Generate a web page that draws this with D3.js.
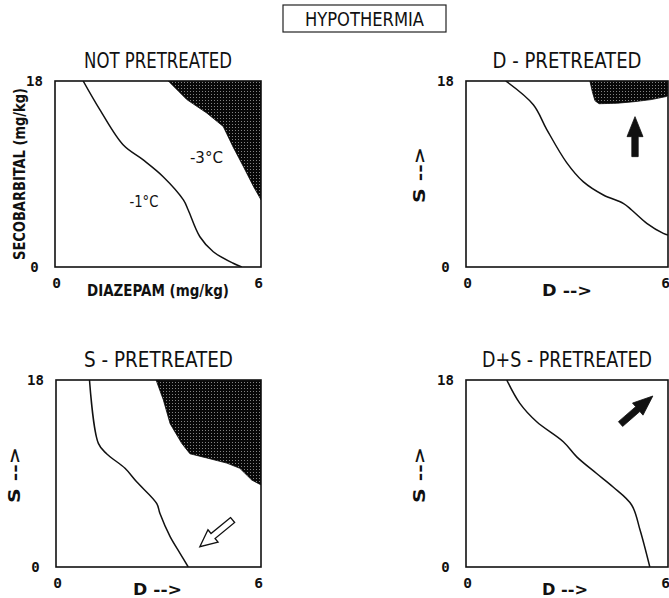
<!DOCTYPE html>
<html>
<head>
<meta charset="utf-8">
<script src="https://cdn.jsdelivr.net/npm/d3@7"></script>
<style>
  html, body { margin: 0; padding: 0; background: #fff; }
  svg { display: block; }
  text { font-family: "DejaVu Sans Condensed", "DejaVu Sans", sans-serif; fill: #111; }
  .tick { font-family: "DejaVu Sans Mono", monospace; font-weight: bold; }
</style>
</head>
<body>
<script>
// ---------------- DATA ----------------
const mainTitle = "HYPOTHERMIA";
const panelTitles = ["NOT PRETREATED", "D - PRETREATED", "S - PRETREATED", "D+S - PRETREATED"];
const xTickValues = [0, 6];
const yTickValues = [0, 18];
const xTickLabels = ["0", "6"];
const yTickLabels = ["0", "18"];
const xDomain = [0, 6];
const yDomain = [0, 18];
const xAxisLabels = ["DIAZEPAM  (mg/kg)", "D -->", "D -->", "D -->"];
const yAxisLabels = ["SECOBARBITAL  (mg/kg)", "S -->", "S -->", "S -->"];

// -1 °C isobole (diazepam, secobarbital) for each panel
const curveNotPretreated = [[0.82,18],[1.31,15.2],[1.99,11.8],[2.57,10.36],[3.15,8.74],[3.74,6.49],[3.88,5.52],[4.22,2.93],[4.61,1.48],[5.19,0.36],[5.44,0]];
const curveDPretreated   = [[1.18,18],[2.0,15.7],[2.4,13.3],[2.99,10.1],[3.48,8.26],[4.08,6.97],[4.67,6.16],[4.92,5.52],[5.37,4.23],[5.86,3.26],[6.0,3.1]];
const curveSPretreated   = [[0.98,18],[1.24,11.9],[1.48,10.9],[2.02,9.5],[2.36,8.2],[2.95,6.1],[3.04,5.17],[3.34,2.92],[3.63,1.32],[3.87,0]];
const curveDSPretreated  = [[1.21,18],[1.6,15.75],[2.1,13.98],[2.89,12.06],[3.29,10.6],[3.88,9.0],[4.37,7.7],[4.92,5.97],[5.17,3.56],[5.46,0]];

// -3 °C regions (shaded)
const regionNotPretreated = [[3.3,18],[3.84,16.2],[4.42,14.9],[4.9,13.6],[5.19,11.6],[5.49,9.7],[5.78,7.8],[6,6.5],[6,18]];
const regionDPretreated   = [[3.68,18],[3.75,17.0],[3.83,16.1],[3.95,15.8],[4.5,15.85],[5.0,16.0],[5.5,16.2],[5.95,16.5],[6,16.6],[6,18]];
const regionSPretreated   = [[2.93,18],[3.14,16.1],[3.34,13.8],[3.68,11.9],[3.92,10.9],[4.41,10.5],[5.0,10.0],[5.38,9.5],[5.73,8.37],[6,7.9],[6,18]];
const regionDSPretreated  = [];

// labels inside first panel: [text, x, y]
const isoLabels = [["-3\u00B0C", 4.41, 10.07], ["-1\u00B0C", 2.59, 5.81]];

// arrows: [tailX, tailY, tipX, tipY] in data units
const arrowD  = [5.02, 10.68, 5.02, 14.55];
const arrowS  = [5.17, 4.52, 4.21, 1.95];
const arrowDS = [4.59, 13.76, 5.55, 16.46];

// ---------------- LAYOUT ----------------
const W = 669, H = 598;
const svg = d3.select("body").append("svg").attr("width", W).attr("height", H);
svg.append("rect").attr("width", W).attr("height", H).attr("fill", "#fff");

const defs = svg.append("defs");
const pat = defs.append("pattern").attr("id", "stipple").attr("patternUnits", "userSpaceOnUse")
  .attr("width", 3).attr("height", 3);
pat.append("rect").attr("width", 3).attr("height", 3).attr("fill", "#080808");
pat.append("rect").attr("x", 1).attr("y", 1).attr("width", 1).attr("height", 1).attr("fill", "#fff").attr("opacity", 0.5);

// main title box
svg.append("rect").attr("x", 283).attr("y", 5).attr("width", 163).attr("height", 27)
  .attr("fill", "none").attr("stroke", "#222").attr("stroke-width", 1.2);
svg.append("text").attr("x", 364.5).attr("y", 26).attr("text-anchor", "middle")
  .attr("font-size", 19).attr("textLength", 119).attr("lengthAdjust", "spacingAndGlyphs").text(mainTitle);

const panels = [
  { box: [55, 81, 206, 186], curve: curveNotPretreated, region: regionNotPretreated, arrow: null,
    titleW: 148, xlab: { w: 142, y: 296, dx: 0, size: 15.5 }, ylab: { x: 25, w: 172, cy: 174, size: 15.5 } },
  { box: [466, 81, 202, 186], curve: curveDPretreated, region: regionDPretreated, arrow: { d: arrowD, hollow: false },
    titleW: 149, xlab: { w: 50, y: 296, dx: 0, size: 16 }, ylab: { x: 425, w: 56, cy: 175, size: 16 } },
  { box: [56, 380, 205, 187], curve: curveSPretreated, region: regionSPretreated, arrow: { d: arrowS, hollow: true },
    titleW: 149, xlab: { w: 49, y: 595, dx: -1, size: 16 }, ylab: { x: 20, w: 56, cy: 475, size: 16 } },
  { box: [466, 380, 202, 187], curve: curveDSPretreated, region: regionDSPretreated, arrow: { d: arrowDS, hollow: false },
    titleW: 170, xlab: { w: 46, y: 595, dx: -2, size: 16 }, ylab: { x: 425, w: 56, cy: 475, size: 16 } }
];

function arrowPath(S, T, sw, hw, hl) {
  const dx = T[0] - S[0], dy = T[1] - S[1];
  const L = Math.hypot(dx, dy);
  const ux = dx / L, uy = dy / L, nx = -uy, ny = ux;
  const B = [T[0] - ux * hl, T[1] - uy * hl];
  const pts = [
    [S[0] + nx * sw, S[1] + ny * sw], [B[0] + nx * sw, B[1] + ny * sw], [B[0] + nx * hw, B[1] + ny * hw],
    T, [B[0] - nx * hw, B[1] - ny * hw], [B[0] - nx * sw, B[1] - ny * sw], [S[0] - nx * sw, S[1] - ny * sw]
  ];
  return "M" + pts.map(p => p.join(",")).join("L") + "Z";
}

panels.forEach((p, i) => {
  const [bx, by, bw, bh] = p.box;
  const x = d3.scaleLinear().domain(xDomain).range([bx, bx + bw]);
  const y = d3.scaleLinear().domain(yDomain).range([by + bh, by]);
  const g = svg.append("g");

  const clipId = "clip" + i;
  defs.append("clipPath").attr("id", clipId).append("rect")
    .attr("x", bx).attr("y", by).attr("width", bw).attr("height", bh);
  const inner = g.append("g").attr("clip-path", `url(#${clipId})`);

  if (p.region.length) {
    inner.append("path")
      .attr("d", d3.line().x(d => x(d[0])).y(d => y(d[1])).curve(d3.curveLinearClosed)(p.region))
      .attr("fill", "url(#stipple)").attr("stroke", "#080808").attr("stroke-width", 0.8);
  }
  inner.append("path")
    .attr("d", d3.line().x(d => x(d[0])).y(d => y(d[1])).curve(d3.curveCatmullRom.alpha(0.5))(p.curve))
    .attr("fill", "none").attr("stroke", "#111").attr("stroke-width", 1.5);

  if (p.arrow) {
    const a = p.arrow.d;
    const S = [x(a[0]), y(a[1])], T = [x(a[2]), y(a[3])];
    inner.append("path").attr("d", arrowPath(S, T, 3.2, 8, p.arrow.hollow ? 17 : 20))
      .attr("fill", p.arrow.hollow ? "#fff" : "#111")
      .attr("stroke", "#111").attr("stroke-width", p.arrow.hollow ? 1.3 : 0.8)
      .attr("stroke-linejoin", "miter");
  }

  // frame
  g.append("rect").attr("x", bx).attr("y", by).attr("width", bw).attr("height", bh)
    .attr("fill", "none").attr("stroke", "#111").attr("stroke-width", 1.6);

  // panel title
  g.append("text").attr("x", bx + bw / 2).attr("y", by - 13).attr("text-anchor", "middle")
    .attr("font-size", 20.5).attr("textLength", p.titleW).attr("lengthAdjust", "spacingAndGlyphs")
    .text(panelTitles[i]);

  // y ticks
  yTickValues.forEach((v, k) => {
    g.append("text").attr("class", "tick").attr("x", bx - 20.5).attr("y", y(v) + 5)
      .attr("text-anchor", "middle").attr("font-size", 14).text(yTickLabels[k]);
  });
  // x ticks
  xTickValues.forEach((v, k) => {
    g.append("text").attr("class", "tick").attr("x", x(v) + (k === 0 ? 1.5 : -2.5)).attr("y", by + bh + 21)
      .attr("text-anchor", "middle").attr("font-size", 14.5).text(xTickLabels[k]);
  });

  // x axis label
  g.append("text").attr("x", bx + bw / 2 + p.xlab.dx).attr("y", p.xlab.y).attr("text-anchor", "middle")
    .attr("font-size", p.xlab.size).attr("font-weight", "bold")
    .attr("textLength", p.xlab.w).attr("lengthAdjust", "spacingAndGlyphs").text(xAxisLabels[i]);

  // y axis label
  g.append("text").attr("transform", `translate(${p.ylab.x},${p.ylab.cy}) rotate(-90)`)
    .attr("text-anchor", "middle").attr("font-size", p.ylab.size).attr("font-weight", "bold")
    .attr("textLength", p.ylab.w).attr("lengthAdjust", "spacingAndGlyphs").text(yAxisLabels[i]);

  if (i === 0) {
    isoLabels.forEach(l => {
      g.append("text").attr("x", x(l[1])).attr("y", y(l[2])).attr("text-anchor", "middle")
        .attr("font-size", 16).attr("textLength", l[0] === "-3\u00B0C" ? 33 : 29)
        .attr("lengthAdjust", "spacingAndGlyphs").text(l[0]);
    });
  }
});
</script>
</body>
</html>
